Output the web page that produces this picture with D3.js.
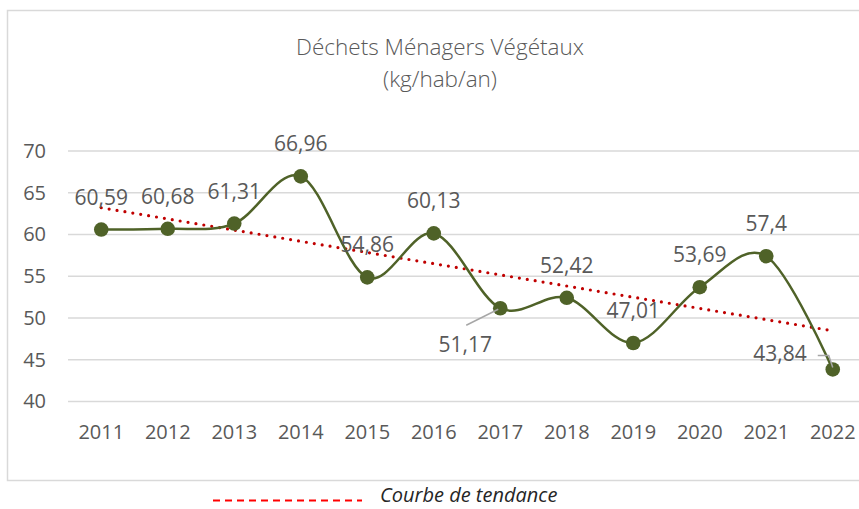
<!DOCTYPE html>
<html><head><meta charset="utf-8">
<script src="https://cdn.jsdelivr.net/npm/d3@7"></script>
<style>
body{margin:0;background:#fff;}
svg{display:block;font-family:"Open Sans",sans-serif;}
</style></head>
<body><svg id="c" width="859" height="509"></svg>
<script>
const years = ["2011","2012","2013","2014","2015","2016","2017","2018","2019","2020","2021","2022"];
const values = [60.59,60.68,61.31,66.96,54.86,60.13,51.17,52.42,47.01,53.69,57.4,43.84];
const yTicks = [40,45,50,55,60,65,70];
const titleLines = ["Déchets Ménagers Végétaux","(kg/hab/an)"];
const legendLabel = "Courbe de tendance";

const svg = d3.select("#c");
svg.append("rect").attr("x",7.5).attr("y",10.5).attr("width",900).attr("height",470)
  .attr("fill","#fff").attr("stroke","#D9D9D9").attr("stroke-width",1.5);

const x = d3.scaleBand().domain(years).range([68,866]);
const y = d3.scaleLinear().domain([40,70]).range([401.5,151]);
const cx = d => x(d) + x.bandwidth()/2;

// title
svg.append("g").selectAll("text").data(titleLines).join("text")
  .attr("x",440).attr("y",(d,i)=>55+i*32).attr("text-anchor","middle")
  .attr("font-size",22.5).attr("font-weight",300).attr("fill","#595959").text(d=>d);

// grid
svg.append("g").selectAll("line").data(yTicks).join("line")
  .attr("x1",68).attr("x2",866).attr("y1",d=>y(d)).attr("y2",d=>y(d))
  .attr("stroke","#D9D9D9").attr("stroke-width",1.5);

// y axis labels
const yAxis = d3.axisLeft(y).tickValues(yTicks).tickSize(0).tickPadding(0).tickFormat(d3.format("d"));
const gy = svg.append("g").attr("transform","translate(46,0)").call(yAxis);
gy.select(".domain").remove();
gy.selectAll("text").attr("font-size",20).attr("fill","#595959").attr("font-family","Open Sans");

// x axis labels
const xAxis = d3.axisBottom(x).tickSize(0).tickPadding(0);
const gx = svg.append("g").attr("transform","translate(0,420)").call(xAxis);
gx.select(".domain").remove();
gx.selectAll("text").attr("font-size",20).attr("fill","#595959").attr("font-family","Open Sans").attr("dy","0.95em");

// trend line (linear regression, as Excel trendline)
const n = values.length;
const mx = (n-1)/2, my = d3.mean(values);
const slope = d3.sum(values,(v,i)=>(i-mx)*(v-my)) / d3.sum(values,(v,i)=>(i-mx)*(i-mx));
const icpt = my - slope*mx;
svg.append("line")
  .attr("x1",cx(years[0])).attr("y1",y(icpt))
  .attr("x2",cx(years[n-1])).attr("y2",y(icpt+slope*(n-1)))
  .attr("stroke","#C00000").attr("stroke-width",3.2).attr("stroke-linecap","round")
  .attr("stroke-dasharray","0 8");

// line
const line = d3.line().x((d,i)=>cx(years[i])).y(d=>y(d)).curve(d3.curveCardinal.tension(0));
svg.append("path").datum(values).attr("d",line).attr("fill","none")
  .attr("stroke","#4F6228").attr("stroke-width",2.5);

// markers
svg.append("g").selectAll("circle").data(values).join("circle")
  .attr("cx",(d,i)=>cx(years[i])).attr("cy",d=>y(d)).attr("r",7.3).attr("fill","#4F6228");

// leader lines
const i17 = years.indexOf("2017"), i22 = years.indexOf("2022");
svg.append("line").attr("x1",cx(years[i17])-34).attr("y1",y(values[i17])+17)
  .attr("x2",cx(years[i17])-2).attr("y2",y(values[i17])+1)
  .attr("stroke","#A6A6A6").attr("stroke-width",1.5);
svg.append("path")
  .attr("d",`M${cx(years[i22])-15},${y(values[i22])-14}H${cx(years[i22])-4}L${cx(years[i22])},${y(values[i22])-2}`)
  .attr("fill","none").attr("stroke","#A6A6A6").attr("stroke-width",1.5);

// data labels
const fmt = v => String(v).replace(".",",");
svg.append("g").selectAll("text").data(values).join("text")
  .attr("x",(d,i)=> i===i17 ? cx(years[i])-35 : i===i22 ? cx(years[i])-26 : cx(years[i]))
  .attr("y",(d,i)=> i===i17 ? y(d)+43.5 : i===i22 ? y(d)-8 : y(d)-25)
  .attr("text-anchor",(d,i)=> i===i22 ? "end" : "middle")
  .attr("font-size",21).attr("fill","#595959").text(fmt);

// legend
svg.append("line").attr("x1",213).attr("x2",362).attr("y1",500.5).attr("y2",500.5)
  .attr("stroke","#FF0000").attr("stroke-width",2).attr("stroke-dasharray","7 5");
svg.append("text").attr("x",380).attr("y",502).attr("font-size",20).attr("font-style","italic")
  .attr("fill","#262626").text(legendLabel);
</script></body></html>
